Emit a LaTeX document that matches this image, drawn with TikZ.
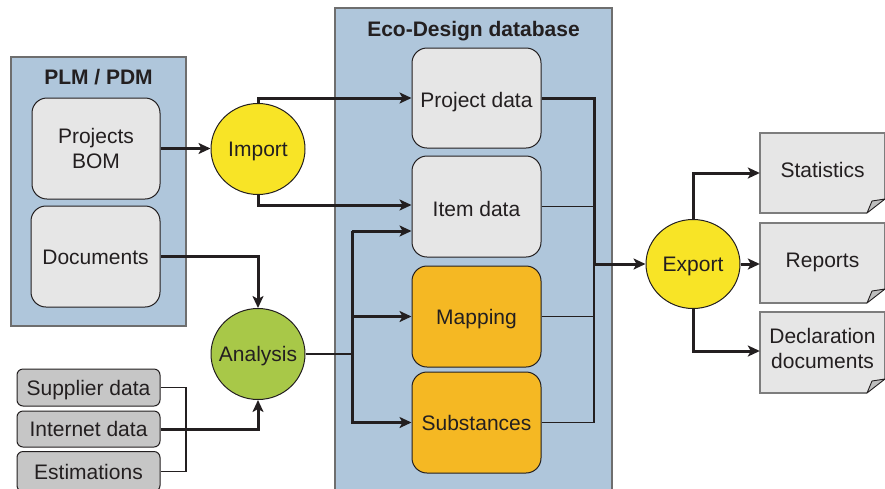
\documentclass[tikz,border=0pt]{standalone}
\usepackage{fontspec}
\setmainfont{Liberation Sans}
\usetikzlibrary{arrows.meta,shapes.geometric}
\definecolor{bluebg}{RGB}{175,198,219}
\definecolor{blueedge}{RGB}{110,110,110}
\definecolor{lightbox}{RGB}{230,230,230}
\definecolor{inbox}{RGB}{198,198,198}
\definecolor{ink}{RGB}{35,31,32}
\definecolor{yel}{RGB}{248,228,38}
\definecolor{grn}{RGB}{168,200,72}
\definecolor{org}{RGB}{245,184,35}
\definecolor{pageedge}{RGB}{125,125,125}
\definecolor{foldfill}{RGB}{190,190,190}
\tikzset{
  x=1pt,y=1pt,
  every node/.style={font=\fontsize{21}{25}\selectfont, text=ink},
  oneline/.style={text height=15pt, text depth=0pt},
  panel/.style={fill=bluebg, draw=blueedge, line width=1.2pt},
  gbox/.style={rectangle, rounded corners=15pt, fill=lightbox, draw=ink, line width=1pt,
     minimum width=129pt, minimum height=101pt, inner sep=0pt, align=center},
  obox/.style={gbox, fill=org},
  ibox/.style={rectangle, rounded corners=6pt, fill=inbox, draw=ink, line width=1pt,
     minimum width=143pt, minimum height=37pt, inner sep=0pt, oneline},
  proc/.style={ellipse, draw=ink, line width=1pt, minimum width=94pt, minimum height=91pt,
     inner sep=0pt, oneline},
  pagetext/.style={minimum width=125pt, minimum height=80pt, inner sep=0pt, align=center},
  foldshape/.style={fill=foldfill, draw=ink, line width=0.9pt, line join=round},
  thickline/.style={draw=ink, line width=3pt},
  thinline/.style={draw=ink, line width=1.4pt},
  arr/.style={-{Stealth[length=12pt,width=11pt,inset=3pt]}},
  title/.style={font=\bfseries\fontsize{21}{25}\selectfont, oneline},
}
\newcommand{\pageboxshape}[4]{% x1, ytop, x2, ybottom (y as positive px)
  \fill[lightbox] (#1,-#2) -- (#3,-#2) -- (#3,-#4+14) -- (#3-18,-#4) -- (#1,-#4) -- cycle;
  \draw[draw=pageedge, line width=1.2pt] (#3-18,-#4) -- (#1,-#4) -- (#1,-#2) -- (#3,-#2) -- (#3,-#4+14);
  \draw[foldshape] (#3-18,-#4) -- (#3-13,-#4+12) -- (#3,-#4+14) -- cycle;
}
\newcommand{\proctext}[1]{\makebox[40pt][c]{#1}}
\begin{document}
\begin{tikzpicture}
\useasboundingbox (0,0) rectangle (885,-488);
\clip (0,0) rectangle (885,-488);

% panels
\draw[panel] (11,-57) rectangle (186,-326);
\node[title] (plmtitle) at (98.5,-77) {PLM / PDM};
\draw[panel] (335,-8) rectangle (612,-500);
\node[title] (ecotitle) at (473.5,-29) {Eco-Design database};

% PLM boxes
\node[gbox, minimum width=128pt] (bom) at (96,-148.5) {Projects\\BOM};
\node[gbox, oneline] (docs) at (95.5,-256.5) {Documents};

% inputs
\node[ibox] (sup) at (88.5,-387.5) {Supplier data};
\node[ibox, minimum height=36pt] (inet) at (88.5,-429) {Internet data};
\node[ibox, minimum height=40pt] (est) at (88.5,-471.5) {Estimations};

% processes
\node[proc, fill=yel] (import) at (258,-149) {\proctext{Import}};
\node[proc, fill=grn] (analysis) at (258,-354) {\proctext{Analysis}};
\node[proc, fill=yel, minimum height=89pt] (export) at (693,-264) {\proctext{Export}};

% database boxes
\node[gbox, oneline, minimum height=100pt] (pd) at (476.5,-98) {\raisebox{-2pt}{Project data}};
\node[gbox, oneline] (item) at (476.5,-206.5) {\raisebox{-2pt}{Item data}};
\node[obox, oneline] (map) at (476.5,-316.5) {Mapping};
\node[obox, oneline] (subs) at (476.5,-422.5) {Substances};

% output pages
\pageboxshape{760}{133}{885}{213}
\pageboxshape{760}{223}{885}{303}
\pageboxshape{760}{312}{885}{393}
\node[pagetext, oneline] (stat) at (822.5,-173) {\raisebox{3pt}{Statistics}};
\node[pagetext, oneline] (rep) at (822.5,-264) {\raisebox{4pt}{Reports}};
\node[pagetext] (decl) at (822.5,-351) {\raisebox{2pt}{\begin{tabular}{@{}c@{}}Declaration\\documents\end{tabular}}};

% coordinates
\coordinate (sej) at (186,-429);
\coordinate (hub) at (352,-354);
\coordinate (hubtop) at (352,-231);
\coordinate (jn) at (594,-264);

% connectors: left
\draw[thickline, arr] (bom.east) -- (bom.east -| import.west);
\draw[thickline, arr] (import.north) |- (pd.west);
\draw[thickline, arr] (import.south) |- ([yshift=1.5pt]item.west);
\draw[thickline, arr] (docs.east) -| (analysis.north);
\draw[thinline] (sup.east) -| (sej) |- (est.east);
\draw[thickline, arr] (inet.east) -| (analysis.south);

% analysis to database
\draw[thinline] (analysis.east) -- (hub);
\draw[thickline, arr] (hubtop) -- (hubtop -| item.west);
\draw[thickline, arr] (hubtop) |- (subs.west);
\draw[thickline, arr] (map.west -| hub) -- (map.west);

% database to export
\draw[thinline] (item.east) -- (item.east -| jn);
\draw[thinline] (map.east) -- (map.east -| jn);
\draw[thinline] (subs.east) -| (jn);
\draw[thickline] (pd.east) -| (jn);
\draw[thickline, arr] (jn) -- (export.west);

% export to outputs
\draw[thickline, arr] (export.north) |- (stat.west);
\draw[thickline, arr] (export.east) -- (rep.west);
\draw[thickline, arr] (export.south) |- (decl.west);
\end{tikzpicture}
\end{document}
